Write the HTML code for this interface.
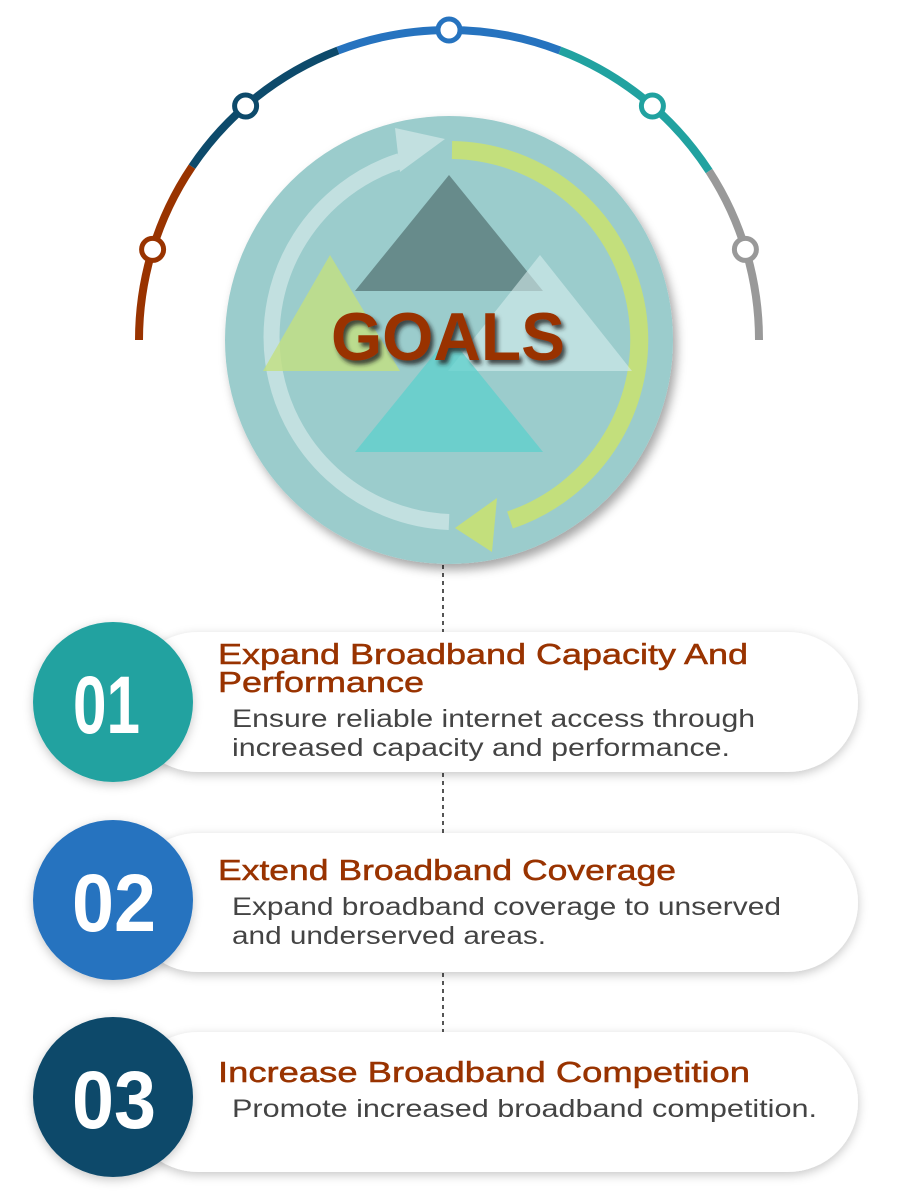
<!DOCTYPE html>
<html><head><meta charset="utf-8"><style>html,body{margin:0;padding:0;background:#fff}svg{display:block}</style></head>
<body>
<svg width="900" height="1200" viewBox="0 0 900 1200" xmlns="http://www.w3.org/2000/svg">
<defs>
<filter id="sh" x="-20%" y="-20%" width="140%" height="140%"><feDropShadow dx="4" dy="6" stdDeviation="5" flood-color="#000" flood-opacity="0.35"/></filter>
<filter id="cs" x="-10%" y="-30%" width="120%" height="160%"><feDropShadow dx="0" dy="3" stdDeviation="5" flood-color="#000" flood-opacity="0.22"/></filter>
<filter id="ts" x="-10%" y="-20%" width="130%" height="150%"><feDropShadow dx="3" dy="4" stdDeviation="2" flood-color="#222" flood-opacity="0.8"/></filter>
</defs>
<g fill="none" stroke-width="8">
<path d="M139 340 A310 310 0 0 1 192 166.7" stroke="#993300"/>
<path d="M192 166.7 A310 310 0 0 1 338 50.5" stroke="#0d4a6b"/>
<path d="M338 50.5 A310 310 0 0 1 560 50.5" stroke="#2673bf"/>
<path d="M560 50.5 A310 310 0 0 1 709.1 171.1" stroke="#21a2a0"/>
<path d="M709.1 171.1 A310 310 0 0 1 759 340" stroke="#999"/>
</g>
<g fill="#fff" stroke-width="5">
<circle cx="152.6" cy="249.4" r="11" stroke="#993300"/>
<circle cx="245.6" cy="106" r="11" stroke="#0d4a6b"/>
<circle cx="449" cy="30" r="11" stroke="#2673bf"/>
<circle cx="652.4" cy="106" r="11" stroke="#21a2a0"/>
<circle cx="745.4" cy="249.4" r="11" stroke="#999"/>
</g>
<line x1="443" y1="565" x2="443" y2="1032" stroke="#555" stroke-width="2" stroke-dasharray="4 4"/>
<circle cx="449" cy="340" r="224" fill="#9bcccc" filter="url(#sh)"/>
<path d="M449 522 A185 185 0 0 1 400 161" fill="none" stroke="#c2e0e0" stroke-width="16"/>
<polygon points="395,128 445,139 400,172" fill="#c2e0e0"/>
<path d="M452 150 A190 190 0 0 1 510 520" fill="none" stroke="#c3df7c" stroke-width="18"/>
<polygon points="497,498 455,528 492,552" fill="#c3df7c"/>
<polygon points="449,175 355,291 543,291" fill="#5a7a7a" opacity="0.8"/>
<polygon points="330,255 263,371 400,371" fill="#c3e080" opacity="0.8"/>
<polygon points="540,255 448,371 632,371" fill="#d6ecec" opacity="0.6"/>
<polygon points="449,336 355,452 543,452" fill="#5cd0cc" opacity="0.75"/>
<text x="331" y="360" font-family="Liberation Sans, sans-serif" font-weight="bold" font-size="68" fill="#993300" textLength="234" lengthAdjust="spacingAndGlyphs" filter="url(#ts)">GOALS</text>
<g font-family="Liberation Sans, sans-serif">
<rect x="128" y="632" width="730" height="140" rx="70" fill="#fff" filter="url(#cs)"/>
<circle cx="113" cy="702" r="80" fill="#21a2a0" filter="url(#cs)"/>
<text x="73" y="733" font-size="82" font-weight="bold" fill="#fff" textLength="67" lengthAdjust="spacingAndGlyphs">01</text>
<text x="218" y="664" font-size="29" fill="#993300" stroke="#993300" stroke-width="0.5" textLength="530" lengthAdjust="spacingAndGlyphs">Expand Broadband Capacity And</text>
<text x="218" y="692" font-size="29" fill="#993300" stroke="#993300" stroke-width="0.5" textLength="206" lengthAdjust="spacingAndGlyphs">Performance</text>
<text x="232" y="727" font-size="25" fill="#444" textLength="523" lengthAdjust="spacingAndGlyphs">Ensure reliable internet access through</text>
<text x="232" y="756" font-size="25" fill="#444" textLength="498" lengthAdjust="spacingAndGlyphs">increased capacity and performance.</text>

<rect x="128" y="833" width="730" height="139" rx="70" fill="#fff" filter="url(#cs)"/>
<circle cx="113" cy="900" r="80" fill="#2673bf" filter="url(#cs)"/>
<text x="72" y="931" font-size="82" font-weight="bold" fill="#fff" textLength="84" lengthAdjust="spacingAndGlyphs">02</text>
<text x="218" y="880" font-size="29" fill="#993300" stroke="#993300" stroke-width="0.5" textLength="458" lengthAdjust="spacingAndGlyphs">Extend Broadband Coverage</text>
<text x="232" y="915" font-size="25" fill="#444" textLength="549" lengthAdjust="spacingAndGlyphs">Expand broadband coverage to unserved</text>
<text x="232" y="944" font-size="25" fill="#444" textLength="314" lengthAdjust="spacingAndGlyphs">and underserved areas.</text>

<rect x="128" y="1032" width="730" height="140" rx="70" fill="#fff" filter="url(#cs)"/>
<circle cx="113" cy="1097" r="80" fill="#0d4a6b" filter="url(#cs)"/>
<text x="72" y="1128" font-size="82" font-weight="bold" fill="#fff" textLength="84" lengthAdjust="spacingAndGlyphs">03</text>
<text x="218" y="1082" font-size="29" fill="#993300" stroke="#993300" stroke-width="0.5" textLength="532" lengthAdjust="spacingAndGlyphs">Increase Broadband Competition</text>
<text x="232" y="1117" font-size="25" fill="#444" textLength="585" lengthAdjust="spacingAndGlyphs">Promote increased broadband competition.</text>
</g>
</svg>
</body></html>
